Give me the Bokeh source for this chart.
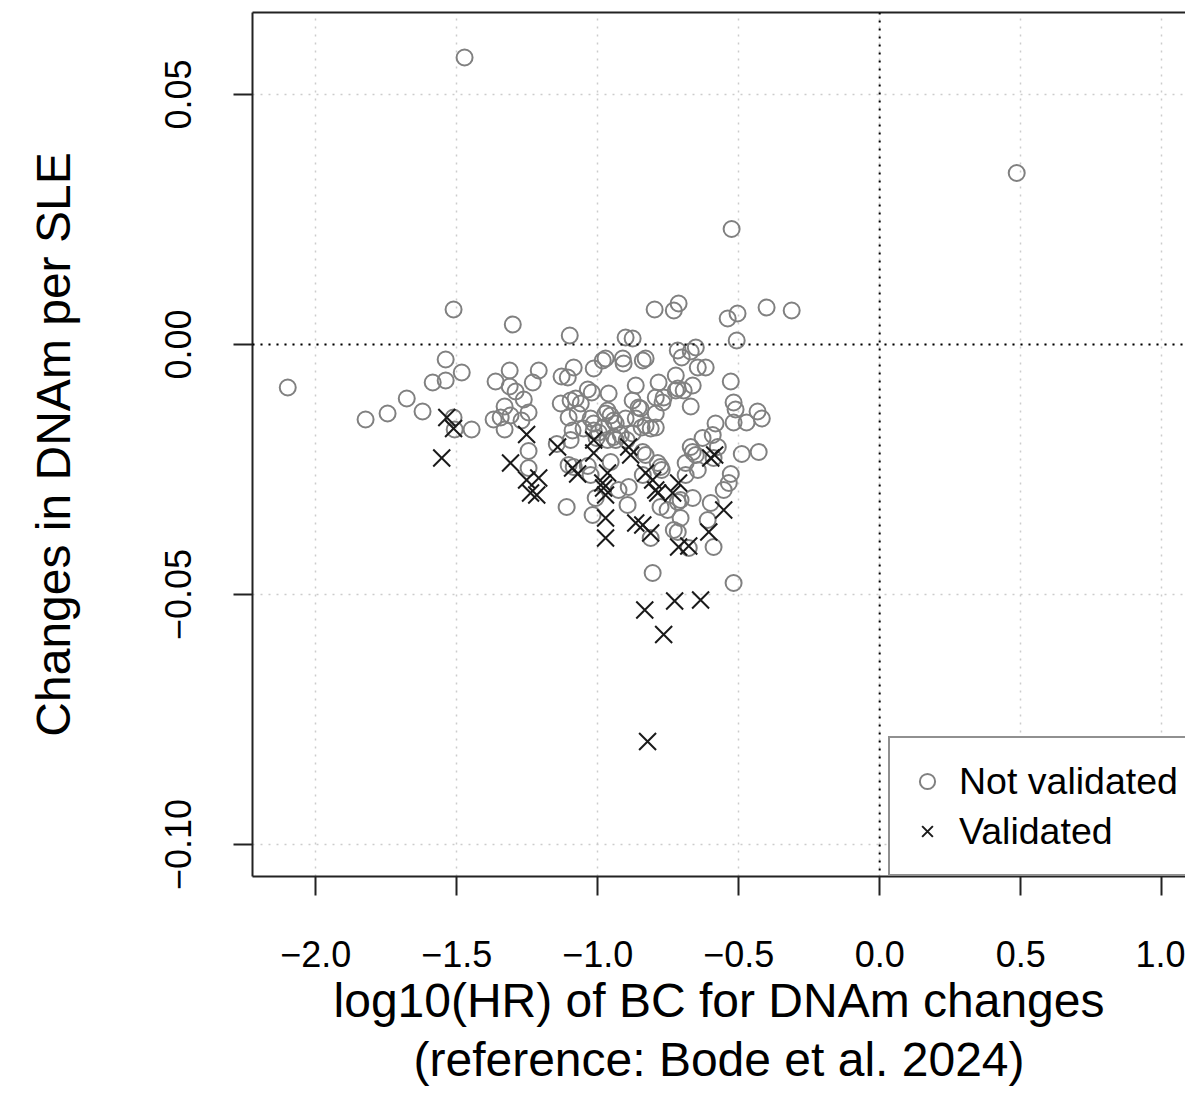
from bokeh.plotting import figure
from bokeh.models import Range1d, FixedTicker, Span, Legend, LegendItem, LinearAxis
from bokeh.embed import file_html
from bokeh.resources import INLINE

# Not validated (circles)
nv_x = [-1.472, -2.099, -1.823, -1.745, -1.677, -1.621, -1.585, -1.539, -1.539, -1.482,
        -1.511, -1.301, -1.511, -1.507, -1.447, -1.362, -1.312, -1.312, -1.291, -1.262,
        -1.209, -1.230, -1.330, -1.309, -1.369, -1.344, -1.330, -1.270, -1.245, -1.245,
        -1.245, -1.099, -1.128, -1.106, -1.085, -1.131, -1.103, -1.145, -1.103, -1.110,
        -1.035, -1.021, -1.096, -1.078, -1.060, -1.071, -1.025, -1.014, -0.982, -0.972,
        -0.911, -0.908, -0.840, -0.830, -0.901, -0.876, -0.798, -0.730, -0.713, -0.961,
        -0.865, -0.784, -0.766, -0.723, -0.965, -0.954, -0.876, -0.855, -0.794, -0.830,
        -0.812, -0.794, -0.865, -0.901, -0.943, -0.936, -0.979, -1.014, -1.050, -1.089,
        -1.096, -0.996, -0.965, -0.936, -0.918, -0.840, -0.830, -0.787, -0.954, -1.085,
        -1.025, -1.018, -1.007, -0.926, -0.894, -0.890, -0.777, -0.840, -0.777, -0.812,
        -0.805, -0.730, -0.844, -0.897, -0.876, -0.943, -1.004, -1.014, -0.972, -0.848,
        -0.794, -0.770, -0.752, -0.706, -1.035, -0.539, -0.504, -0.401, -0.312, -0.507,
        -0.525, 0.486, -0.716, -0.702, -0.652, -0.670, -0.645, -0.617, -0.723, -0.663,
        -0.716, -0.695, -0.670, -0.528, -0.518, -0.511, -0.518, -0.472, -0.433, -0.418,
        -0.429, -0.489, -0.528, -0.582, -0.592, -0.628, -0.670, -0.574, -0.652, -0.589,
        -0.688, -0.645, -0.688, -0.535, -0.553, -0.663, -0.599, -0.716, -0.706, -0.610,
        -0.716, -0.677, -0.589, -0.518, -0.663, -0.773]
nv_y = [0.0574, -0.0086, -0.0150, -0.0138, -0.0108, -0.0134, -0.0076, -0.0072, -0.0030, -0.0056,
        0.0070, 0.0040, -0.0146, -0.0170, -0.0170, -0.0074, -0.0052, -0.0084, -0.0094, -0.0110,
        -0.0052, -0.0076, -0.0124, -0.0142, -0.0150, -0.0146, -0.0170, -0.0152, -0.0136, -0.0213,
        -0.0247, 0.0018, -0.0064, -0.0066, -0.0046, -0.0118, -0.0146, -0.0199, -0.0241, -0.0325,
        -0.0090, -0.0096, -0.0112, -0.0108, -0.0118, -0.0138, -0.0148, -0.0048, -0.0032, -0.0028,
        -0.0028, -0.0038, -0.0032, -0.0028, 0.0014, 0.0012, 0.0070, 0.0068, 0.0082, -0.0098,
        -0.0082, -0.0076, -0.0106, -0.0092, -0.0132, -0.0142, -0.0112, -0.0126, -0.0138, -0.0162,
        -0.0168, -0.0166, -0.0148, -0.0148, -0.0152, -0.0158, -0.0166, -0.0158, -0.0168, -0.0172,
        -0.0191, -0.0176, -0.0191, -0.0191, -0.0181, -0.0215, -0.0221, -0.0237, -0.0235, -0.0245,
        -0.0261, -0.0341, -0.0307, -0.0291, -0.0321, -0.0285, -0.0245, -0.0261, -0.0325, -0.0387,
        -0.0457, -0.0371, -0.0166, -0.0191, -0.0178, -0.0185, -0.0187, -0.0172, -0.0138, -0.0128,
        -0.0106, -0.0116, -0.0331, -0.0311, -0.0243, 0.0052, 0.0062, 0.0074, 0.0068, 0.0008,
        0.0231, 0.0343, -0.0012, -0.0026, -0.0006, -0.0014, -0.0046, -0.0046, -0.0062, -0.0082,
        -0.0088, -0.0092, -0.0124, -0.0074, -0.0116, -0.0130, -0.0156, -0.0156, -0.0134, -0.0148,
        -0.0215, -0.0219, -0.0259, -0.0158, -0.0181, -0.0187, -0.0205, -0.0205, -0.0221, -0.0227,
        -0.0237, -0.0251, -0.0261, -0.0277, -0.0291, -0.0307, -0.0317, -0.0315, -0.0347, -0.0351,
        -0.0375, -0.0407, -0.0405, -0.0477, -0.0215, -0.0251]

# Validated (crosses)
v_x = [-1.535, -1.511, -1.553, -1.252, -1.309, -1.252, -1.209, -1.238, -1.216, -1.142,
       -1.089, -1.071, -1.014, -1.014, -0.965, -0.982, -0.979, -0.972, -0.972, -0.972,
       -0.890, -0.883, -0.830, -0.805, -0.794, -0.787, -0.713, -0.734, -0.865, -0.840,
       -0.812, -0.713, -0.677, -0.599, -0.606, -0.553, -0.833, -0.727, -0.635, -0.766,
       -0.823, -0.585]
v_y = [-0.0146, -0.0168, -0.0227, -0.0180, -0.0237, -0.0271, -0.0267, -0.0297, -0.0301, -0.0205,
       -0.0247, -0.0259, -0.0191, -0.0217, -0.0257, -0.0277, -0.0287, -0.0301, -0.0347, -0.0387,
       -0.0205, -0.0221, -0.0257, -0.0271, -0.0291, -0.0297, -0.0277, -0.0297, -0.0357, -0.0361,
       -0.0377, -0.0405, -0.0403, -0.0227, -0.0375, -0.0331, -0.0531, -0.0513, -0.0511, -0.0580,
       -0.0794, -0.0221]

x_ticks = [-2.0, -1.5, -1.0, -0.5, 0.0, 0.5, 1.0]
x_tick_labels = ["\u22122.0", "\u22121.5", "\u22121.0", "\u22120.5", "0.0", "0.5", "1.0"]
y_ticks = [-0.10, -0.05, 0.0, 0.05]
y_tick_labels = ["\u22120.10", "\u22120.05", "0.00", "0.05"]

legend_labels = ["Not validated", "Validated"]
x_title_1 = "log10(HR) of BC for DNAm changes"
x_title_2 = "(reference: Bode et al. 2024)"
y_title = "Changes in DNAm per SLE"

FONT = "Liberation Sans"

p = figure(width=1185, height=1101, output_backend="svg", toolbar_location=None,
           x_range=Range1d(-2.224, 1.0845), y_range=Range1d(-0.1064, 0.0664),
           min_border_left=252, min_border_top=12, min_border_right=0,
           min_border_bottom=225)
p.outline_line_color = None
p.background_fill_color = "white"
p.border_fill_color = "white"

for ax in (p.xaxis[0], p.yaxis[0]):
    ax.axis_line_width = 2
    ax.axis_line_color = "#222222"
    ax.major_tick_line_width = 2
    ax.major_tick_line_color = "#222222"
    ax.major_tick_out = 19
    ax.major_tick_in = 0
    ax.minor_tick_out = 0
    ax.minor_tick_in = 0
    ax.major_label_text_font = FONT
    ax.major_label_text_font_size = "36px"
    ax.major_label_text_color = "black"
    ax.axis_label_text_font = FONT
    ax.axis_label_text_font_size = "48px"
    ax.axis_label_text_font_style = "normal"
    ax.axis_label_text_color = "black"

p.xaxis.ticker = FixedTicker(ticks=x_ticks)
p.xaxis.major_label_overrides = dict(zip(x_ticks, x_tick_labels))
p.xaxis.major_label_standoff = 45
p.xaxis.axis_label = x_title_1
p.xaxis.axis_label_standoff = 4

p.yaxis.ticker = FixedTicker(ticks=y_ticks)
p.yaxis.major_label_overrides = dict(zip(y_ticks, y_tick_labels))
p.yaxis.major_label_orientation = "vertical"
p.yaxis.major_label_standoff = 43
p.yaxis.axis_label = y_title
p.yaxis.axis_label_standoff = 82

top = LinearAxis(ticker=FixedTicker(ticks=[]), axis_line_width=2, axis_line_color="#222222",
                 major_tick_out=0, major_tick_in=0, minor_tick_out=0, minor_tick_in=0,
                 major_label_standoff=0, major_label_text_font_size="0px")
p.add_layout(top, "above")

second = LinearAxis(ticker=FixedTicker(ticks=[]), axis_line_color=None,
                    major_tick_out=0, major_tick_in=0, minor_tick_out=0, minor_tick_in=0,
                    major_label_standoff=0, major_label_text_font_size="0px",
                    axis_label=x_title_2, axis_label_standoff=3,
                    axis_label_text_font=FONT, axis_label_text_font_size="48px",
                    axis_label_text_font_style="normal", axis_label_text_color="black")
p.add_layout(second, "below")

for g in (p.xgrid[0], p.ygrid[0]):
    g.grid_line_color = "#cccccc"
    g.grid_line_dash = "2 6"
    g.grid_line_width = 1.5
p.xgrid.ticker = FixedTicker(ticks=x_ticks)
p.ygrid.ticker = FixedTicker(ticks=y_ticks)

p.add_layout(Span(location=0, dimension="width", line_color="black", line_dash="2 6", line_width=2))
p.add_layout(Span(location=0, dimension="height", line_color="black", line_dash="2 6", line_width=2))

r1 = p.scatter(nv_x, nv_y, marker="circle", size=16, fill_color=None,
               line_color="#808080", line_width=2)
r2 = p.scatter(v_x, v_y, marker="x", size=24, line_color="#1a1a1a", line_width=2)

legend = Legend(items=[LegendItem(label=legend_labels[0], renderers=[r1]),
                       LegendItem(label=legend_labels[1], renderers=[r2])],
                location=(636, 0), margin=0, padding=18, spacing=0,
                glyph_width=38, glyph_height=50, label_height=50, label_standoff=13,
                label_text_font=FONT, label_text_font_size="37.5px", label_text_color="black",
                border_line_color="#222222", border_line_width=2,
                background_fill_color="white", background_fill_alpha=1.0)
p.add_layout(legend)

open("out.html", "w").write(file_html(p, INLINE))
